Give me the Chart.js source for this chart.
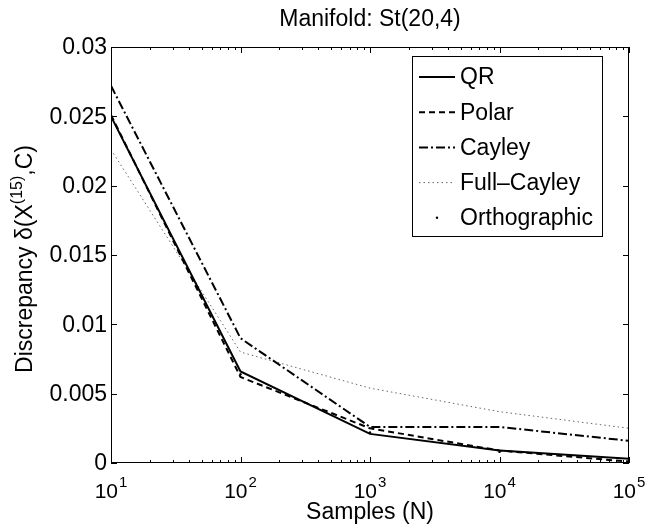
<!DOCTYPE html>
<html>
<head>
<meta charset="utf-8">
<script src="https://cdn.jsdelivr.net/npm/chart.js@4"></script>
<style>
  html, body { margin: 0; padding: 0; background: #fff; }
  #wrap { width: 647px; height: 524px; }
</style>
</head>
<body>
<div id="wrap"><canvas id="stChart" width="647" height="524"></canvas></div>
<script>
// values
var samples = [10, 100, 1000, 10000, 100000];
var qrValues = [0.0250, 0.0066, 0.0021, 0.0009, 0.0003];
var polarValues = [0.0251, 0.0062, 0.0025, 0.0009, 0.0001];
var cayleyValues = [0.0272, 0.0090, 0.0026, 0.0026, 0.0016];
var fullCayleyValues = [0.0226, 0.0080, 0.0054, 0.0037, 0.0025];
var orthoValues = [0.0249, 0.0064, 0.0022, 0.0008, 0.0002];

var yTicks = [0, 0.005, 0.01, 0.015, 0.02, 0.025, 0.03];
var yTickLabels = ['0', '0.005', '0.01', '0.015', '0.02', '0.025', '0.03'];
var xTicks = [10, 100, 1000, 10000, 100000];
var xTickExponents = ['1', '2', '3', '4', '5'];

var FONT = '"Liberation Sans", Arial, Helvetica, sans-serif';

function points(vals) {
    return samples.map(function(s, i) { return { x: s, y: vals[i] }; });
}

var series = [
    { label: 'QR', data: qrValues, color: '#000', width: 2, dash: [] },
    { label: 'Polar', data: polarValues, color: '#000', width: 2, dash: [6, 4] },
    { label: 'Cayley', data: cayleyValues, color: '#000', width: 2, dash: [9, 3, 2, 3] },
    { label: 'Full\u2013Cayley', data: fullCayleyValues, color: '#666', width: 1, dash: [1.5, 3] },
    { label: 'Orthographic', data: orthoValues, color: '#000', width: 0, dash: [], dots: true }
];

var datasets = series.map(function(s) {
    return {
        label: s.label,
        data: points(s.data),
        borderColor: s.color,
        backgroundColor: s.color,
        borderWidth: s.width,
        borderDash: s.dash,
        showLine: !s.dots,
        pointRadius: s.dots ? 1.2 : 0,
        pointHoverRadius: 0,
        tension: 0,
        fill: false
    };
});

var decor = {
    id: 'matlabDecor',
    afterDraw: function(chart) {
        var c = chart.ctx;
        var a = chart.chartArea;
        var xs = chart.scales.x;
        var ys = chart.scales.y;
        c.save();

        // axes box
        c.strokeStyle = '#000';
        c.lineWidth = 1;
        c.strokeRect(a.left + 0.5, a.top + 0.5, a.right - a.left - 1, a.bottom - a.top - 1);

        // x ticks (major + minor), inward, bottom and top
        c.beginPath();
        for (var d = 0; d < xTicks.length; d++) {
            for (var m = 1; m <= 9; m++) {
                var v = xTicks[d] * m;
                if (v > xTicks[xTicks.length - 1]) break;
                var px = Math.round(xs.getPixelForValue(v)) + 0.5;
                var len = m === 1 ? 6 : 3;
                c.moveTo(px, a.bottom); c.lineTo(px, a.bottom - len);
                c.moveTo(px, a.top); c.lineTo(px, a.top + len);
            }
        }
        // y ticks, left and right
        yTicks.forEach(function(t) {
            var py = Math.round(ys.getPixelForValue(t)) + 0.5;
            c.moveTo(a.left, py); c.lineTo(a.left + 6, py);
            c.moveTo(a.right, py); c.lineTo(a.right - 6, py);
        });
        c.stroke();

        c.fillStyle = '#000';
        // y tick labels
        c.font = '23px ' + FONT;
        c.textAlign = 'right';
        c.textBaseline = 'middle';
        yTicks.forEach(function(t, i) {
            c.fillText(yTickLabels[i], a.left - 4, ys.getPixelForValue(t) + 1);
        });

        // x tick labels 10^n
        c.textBaseline = 'alphabetic';
        c.textAlign = 'left';
        xTicks.forEach(function(t, i) {
            c.font = '21px ' + FONT;
            var wBase = c.measureText('10').width;
            c.font = '15px ' + FONT;
            var wExp = c.measureText(xTickExponents[i]).width;
            var x0 = xs.getPixelForValue(t) - (wBase + wExp + 1) / 2;
            c.font = '21px ' + FONT;
            c.fillText('10', x0, a.bottom + 35);
            c.font = '15px ' + FONT;
            c.fillText(xTickExponents[i], x0 + wBase + 1, a.bottom + 24);
        });

        // x axis title
        c.font = '23px ' + FONT;
        c.textAlign = 'center';
        c.fillText('Samples (N)', (a.left + a.right) / 2, a.bottom + 56);

        // chart title
        c.fillText('Manifold: St(20,4)', (a.left + a.right) / 2, a.top - 21);

        // y axis title with superscript
        c.save();
        c.translate(32, (a.top + a.bottom) / 2 + 4);
        c.rotate(-Math.PI / 2);
        var p1 = 'Discrepancy \u03b4(X', sup = '(15)', p2 = ',C)';
        c.font = '23px ' + FONT;
        var w1 = c.measureText(p1).width, w3 = c.measureText(p2).width;
        c.font = '16px ' + FONT;
        var w2 = c.measureText(sup).width;
        var sx = -(w1 + w2 + w3) / 2;
        c.textAlign = 'left';
        c.font = '23px ' + FONT;
        c.fillText(p1, sx, 0);
        c.font = '16px ' + FONT;
        c.fillText(sup, sx + w1, -10);
        c.font = '23px ' + FONT;
        c.fillText(p2, sx + w1 + w2, 0);
        c.restore();

        // legend
        var lx = 412, ly = 56, lw = 190, lh = 180;
        c.fillStyle = '#fff';
        c.fillRect(lx, ly, lw, lh);
        c.strokeStyle = '#000';
        c.lineWidth = 1;
        c.strokeRect(lx + 0.5, ly + 0.5, lw, lh);
        c.font = '23px ' + FONT;
        c.textAlign = 'left';
        c.textBaseline = 'middle';
        series.forEach(function(s, i) {
            var cy = ly + 21 + i * 35.2;
            c.fillStyle = '#000';
            c.fillText(s.label, lx + 48, cy + 1);
            if (s.dots) {
                c.beginPath();
                c.arc(lx + 25, cy, 1.2, 0, Math.PI * 2);
                c.fill();
            } else {
                c.beginPath();
                c.strokeStyle = s.color;
                c.lineWidth = s.width;
                c.setLineDash(s.dash);
                c.moveTo(lx + 7, cy);
                c.lineTo(lx + 43, cy);
                c.stroke();
                c.setLineDash([]);
            }
        });
        c.restore();
    }
};

var ctx = document.getElementById('stChart');
var stChart = new Chart(ctx, {
    type: 'line',
    data: { datasets: datasets },
    options: {
        responsive: false,
        animation: false,
        events: [],
        layout: { padding: { left: 111, right: 18, top: 47, bottom: 61 } },
        plugins: { legend: { display: false }, title: { display: false }, tooltip: { enabled: false } },
        scales: {
            x: { type: 'logarithmic', min: 10, max: 100000, display: false },
            y: { type: 'linear', min: 0, max: 0.03, display: false }
        }
    },
    plugins: [decor]
});
</script>
</body>
</html>
